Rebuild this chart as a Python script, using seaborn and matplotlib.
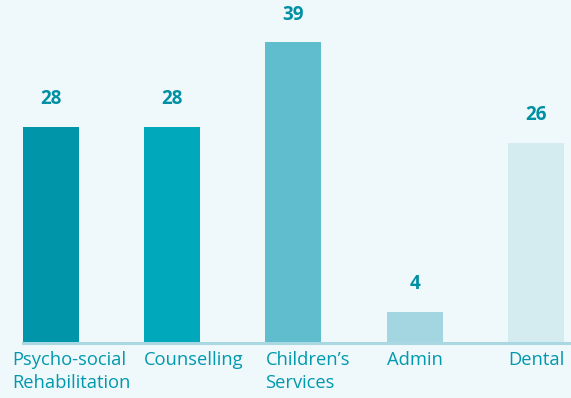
import matplotlib
matplotlib.use("Agg")
import matplotlib.pyplot as plt
import matplotlib.transforms as mtransforms
import seaborn as sns
import pandas as pd

categories = ["Psycho-social\nRehabilitation", "Counselling", "Children\u2019s\nServices", "Admin", "Dental"]
values = [28, 28, 39, 4, 26]
colors = ["#0095a9", "#00a8bb", "#5fbdcd", "#a4d6e1", "#d4ecf0"]

BG = "#eff8fb"
TEXT = "#0099ad"
VAL = "#0090a4"

sns.set_theme(style="white")
plt.rcParams["font.family"] = ["Open Sans", "DejaVu Sans"]

df = pd.DataFrame({"cat": categories, "val": values})

fig = plt.figure(figsize=(5.71, 3.98), dpi=100, facecolor=BG)
ax = fig.add_axes([23 / 571, 55 / 398, 1 - 23 / 571, 343 / 398])
ax.set_facecolor(BG)

W = 0.462
sns.barplot(data=df, x="cat", y="val", hue="cat", palette=colors, legend=False,
            width=W, saturation=1, linewidth=0, edgecolor="none", ax=ax)

ax.set_xlim(-0.231, 4.289)
ax.set_ylim(0, 44.5)
for s in ["top", "right", "left"]:
    ax.spines[s].set_visible(False)
ax.spines["bottom"].set_color("#a9d8e2")
ax.spines["bottom"].set_linewidth(2.2)
ax.set_xticks([])
ax.set_yticks([])
ax.set_xlabel("")
ax.set_ylabel("")

# value labels
for i, v in enumerate(values):
    ax.annotate(str(v), (i, v), xytext=(0, 20), textcoords="offset points",
                ha="center", va="center", fontsize=13.5, fontweight="bold", color=VAL)

# category labels, left-aligned near bar left edge
trans = mtransforms.blended_transform_factory(ax.transData, ax.transAxes)
for i, c in enumerate(categories):
    dx = -8 if i == 0 else 0
    t = ax.text(i - W / 2, 0, c, transform=trans, ha="left", va="top",
                fontsize=13.2, color=TEXT, linespacing=1.3, clip_on=False)
    t.set_transform(trans + mtransforms.ScaledTranslation(dx / 72, -6 / 72, fig.dpi_scale_trans))

fig.savefig("out.png", dpi=100, facecolor=BG)
